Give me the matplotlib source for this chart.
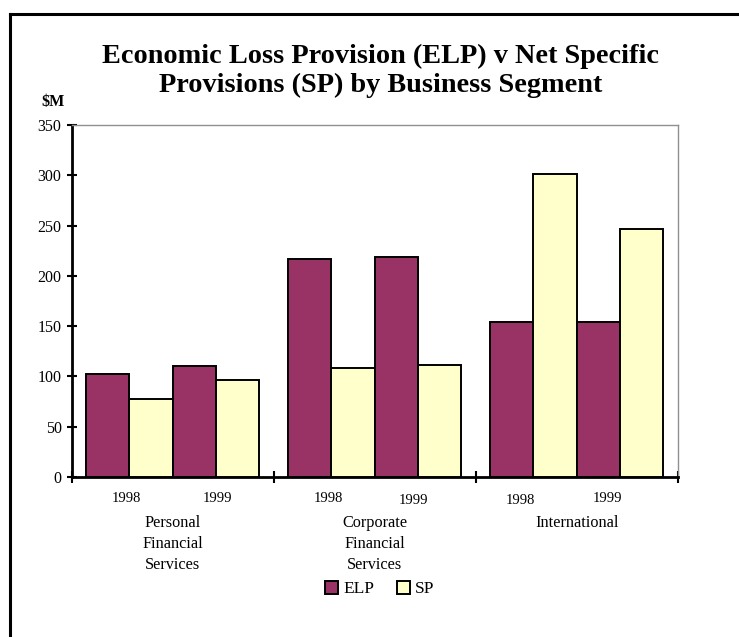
import matplotlib
matplotlib.use('Agg')
import matplotlib.pyplot as plt
from matplotlib.lines import Line2D
from matplotlib.patches import Patch
import matplotlib.transforms as mtransforms
import numpy as np

# provisions in $M, per segment, years 1998 / 1999
segments = ['Personal\nFinancial\nServices', 'Corporate\nFinancial\nServices', 'International']
years = ['1998', '1999']
elp = [[102, 110], [217, 219], [154, 154]]
sp = [[78, 96], [108, 111], [301, 247]]
yticks = [0, 50, 100, 150, 200, 250, 300, 350]

ELP_COLOR = '#993366'
SP_COLOR = '#FFFFCC'

plt.rcParams['font.family'] = ['Liberation Serif', 'DejaVu Serif']

fig = plt.figure(figsize=(7.39, 6.37), dpi=100)
ax = fig.add_axes([72 / 739, 1 - 477 / 637, 606 / 739, 352 / 637])

# four contiguous bars per segment: ELP98, SP98, ELP99, SP99
margin = 0.07
w = 0.2145
for i in range(len(segments)):
    for j in range(len(years)):
        x0 = i + margin + 2 * j * w
        ax.bar(x0, elp[i][j], width=w, align='edge', color=ELP_COLOR,
               edgecolor='black', linewidth=1.4, zorder=3)
        ax.bar(x0 + w, sp[i][j], width=w, align='edge', color=SP_COLOR,
               edgecolor='black', linewidth=1.4, zorder=3)

ax.set_xlim(0, len(segments))
ax.set_ylim(0, 350)
ax.set_yticks(yticks)
ax.set_yticklabels([str(v) for v in yticks], fontsize=11.5)
ax.set_xticks(np.arange(len(segments) + 1))
ax.set_xticklabels([])
ax.tick_params(axis='y', direction='inout', length=7, width=1.5, pad=4)
ax.tick_params(axis='x', direction='inout', length=9, width=1.5)

for side in ['top', 'right']:
    ax.spines[side].set_color('#909090')
    ax.spines[side].set_linewidth(1.0)
for side in ['left', 'bottom']:
    ax.spines[side].set_color('black')
    ax.spines[side].set_linewidth(2.0)

# year labels under each pair, segment names below them
trans = mtransforms.blended_transform_factory(ax.transData, ax.transAxes)
year_x = [[0.27, 0.72], [0.27, 0.69], [0.22, 0.65]]
year_dy = [[-0.06, -0.06], [-0.06, -0.068], [-0.068, -0.06]]
for i, name in enumerate(segments):
    for j, yr in enumerate(years):
        ax.text(i + year_x[i][j], year_dy[i][j], yr, transform=trans,
                ha='center', va='center', fontsize=10.5)
    ax.text(i + 0.5, -0.107, name, transform=trans, ha='center', va='top',
            fontsize=11.7, linespacing=1.45)

# title and unit label
fig.text(0.515, 1 - 71 / 637,
         'Economic Loss Provision (ELP) v Net Specific\nProvisions (SP) by Business Segment',
         ha='center', va='center', fontsize=20.3, fontweight='bold', linespacing=1.22)
fig.text(41 / 739, 1 - 102 / 637, '$M', ha='left', va='center',
         fontsize=11.5, fontweight='bold')

handles = [Patch(facecolor=ELP_COLOR, edgecolor='black', linewidth=1.4),
           Patch(facecolor=SP_COLOR, edgecolor='black', linewidth=1.4)]
fig.legend(handles, ['ELP', 'SP'], loc='center',
           bbox_to_anchor=(380 / 739, 1 - 589 / 637), ncol=2, frameon=False,
           fontsize=12.5, handlelength=0.75, handleheight=0.75,
           handletextpad=0.3, columnspacing=1.3)

# frame lines along the left and top edge
fig.add_artist(Line2D([9.5 / 739, 9.5 / 739], [0, 1 - 13.5 / 637],
                      transform=fig.transFigure, color='black', linewidth=2.2))
fig.add_artist(Line2D([9.5 / 739, 1], [1 - 13.5 / 637, 1 - 13.5 / 637],
                      transform=fig.transFigure, color='black', linewidth=2.2))

fig.savefig('out.png', dpi=100)
